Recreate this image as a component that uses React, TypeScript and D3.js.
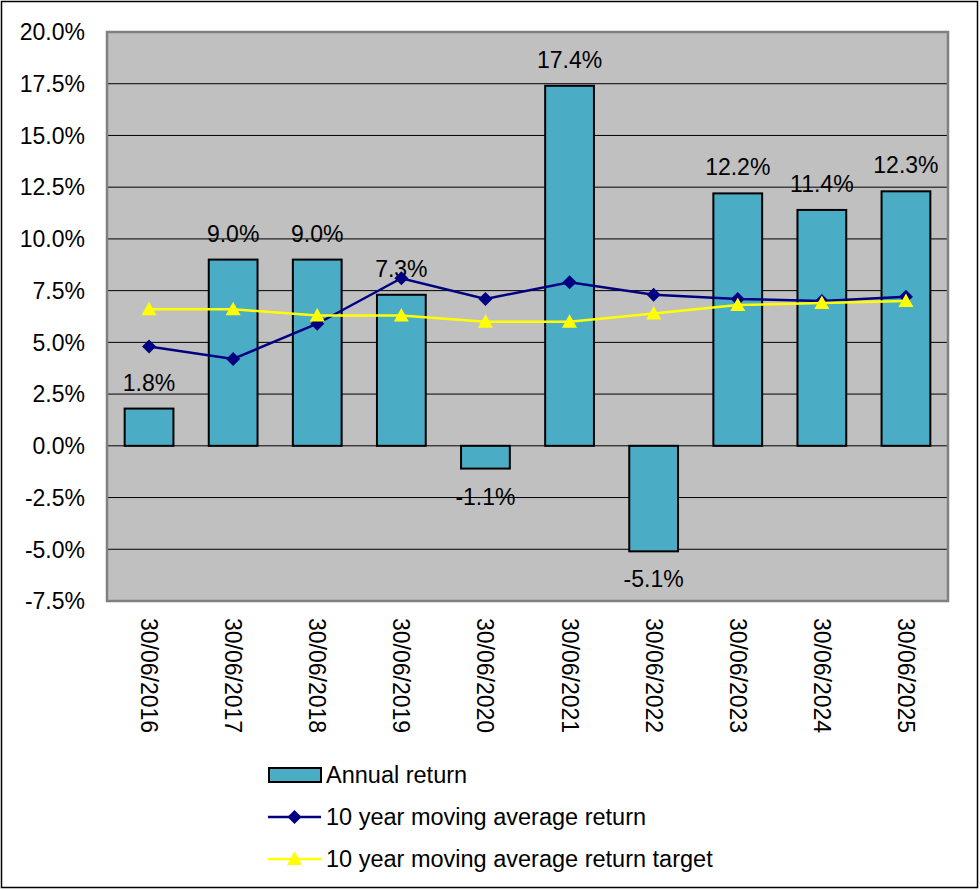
import React from "react";
import * as d3 from "d3";

const categories = ["30/06/2016","30/06/2017","30/06/2018","30/06/2019","30/06/2020","30/06/2021","30/06/2022","30/06/2023","30/06/2024","30/06/2025"];
const annualReturn = [1.8, 9.0, 9.0, 7.3, -1.1, 17.4, -5.1, 12.2, 11.4, 12.3];
const movingAvg = [4.8, 4.2, 5.9, 8.1, 7.1, 7.9, 7.3, 7.1, 7.0, 7.2];
const movingTarget = [6.6, 6.6, 6.3, 6.3, 6.0, 6.0, 6.4, 6.8, 6.9, 7.0];
const yTicks = [-7.5, -5.0, -2.5, 0, 2.5, 5.0, 7.5, 10.0, 12.5, 15.0, 17.5, 20.0];
const legendLabels = ["Annual return", "10 year moving average return", "10 year moving average return target"];

const W = 980, H = 890;
const plot = { left: 107, top: 32, right: 948, bottom: 601 };
const FONT = "Liberation Sans, Arial, sans-serif";
const FS = 23;
const LFS = 23.5;

export default function App() {
  const x = d3.scaleBand<string>().domain(categories).range([plot.left, plot.right]).paddingInner(0.42).paddingOuter(0.21);
  const y = d3.scaleLinear().domain([-7.5, 20]).range([plot.bottom, plot.top]);
  const cx = (i: number) => (x(categories[i]) as number) + x.bandwidth() / 2;
  const lineGen = d3.line<number>().x((_, i) => cx(i)).y((d) => y(d));
  const fmt = (v: number) => v.toFixed(1) + "%";
  const tri = (px: number, py: number, s = 7.5) => `M${px},${py - s}L${px + s},${py + s * 0.8}L${px - s},${py + s * 0.8}Z`;
  const dia = (px: number, py: number, s = 7) => `M${px},${py - s}L${px + s},${py}L${px},${py + s}L${px - s},${py}Z`;

  return (
    <svg width={W} height={H} style={{ position: "absolute", left: 0, top: 0, fontFamily: FONT }}>
      <rect x={0} y={0} width={W} height={H} fill="#fff" />
      <rect x={1.5} y={1.5} width={976} height={886} fill="none" stroke="#000" strokeWidth={1.5} />
      <rect x={plot.left} y={plot.top} width={plot.right - plot.left} height={plot.bottom - plot.top} fill="#c0c0c0" />
      {yTicks.map((t) => (
        <g key={t}>
          {t > -7.5 && t < 20 && (
            <line x1={plot.left} x2={plot.right} y1={y(t)} y2={y(t)} stroke="#000" strokeWidth={1} />
          )}
          <text x={85} y={y(t)} dy="0.36em" textAnchor="end" fontSize={FS} fill="#000">{fmt(t)}</text>
        </g>
      ))}
      <rect x={plot.left} y={plot.top} width={plot.right - plot.left} height={plot.bottom - plot.top} fill="none" stroke="#808080" strokeWidth={2.5} />
      {annualReturn.map((v, i) => (
        <rect key={i} x={x(categories[i])} y={y(Math.max(0, v))} width={x.bandwidth()} height={Math.abs(y(v) - y(0))}
          fill="#4bacc6" stroke="#000" strokeWidth={2} />
      ))}
      {annualReturn.map((v, i) => (
        <text key={"l" + i} x={cx(i)} y={v >= 0 ? y(v) - 18 : y(v) + 36} textAnchor="middle" fontSize={FS} fill="#000">{fmt(v)}</text>
      ))}
      <path d={lineGen(movingAvg) as string} fill="none" stroke="#000080" strokeWidth={2.5} />
      {movingAvg.map((v, i) => <path key={"d" + i} d={dia(cx(i), y(v))} fill="#000080" />)}
      <path d={lineGen(movingTarget) as string} fill="none" stroke="#ffff00" strokeWidth={2.5} />
      {movingTarget.map((v, i) => <path key={"t" + i} d={tri(cx(i), y(v))} fill="#ffff00" />)}
      {categories.map((c, i) => (
        <text key={c} transform={`translate(${cx(i) - 8},${618}) rotate(90)`} textAnchor="start" fontSize={FS} fill="#000">{c}</text>
      ))}
      <g>
        <rect x={269} y={768} width={52} height={14} fill="#4bacc6" stroke="#000" strokeWidth={2} />
        <text x={326} y={775} dy="0.36em" fontSize={LFS}>{legendLabels[0]}</text>
        <line x1={268} x2={321} y1={817} y2={817} stroke="#000080" strokeWidth={2.5} />
        <path d={dia(294.5, 817)} fill="#000080" />
        <text x={326} y={817} dy="0.36em" fontSize={LFS}>{legendLabels[1]}</text>
        <line x1={268} x2={321} y1={859} y2={859} stroke="#ffff00" strokeWidth={2.5} />
        <path d={tri(294.5, 859)} fill="#ffff00" />
        <text x={326} y={859} dy="0.36em" fontSize={LFS}>{legendLabels[2]}</text>
      </g>
    </svg>
  );
}
